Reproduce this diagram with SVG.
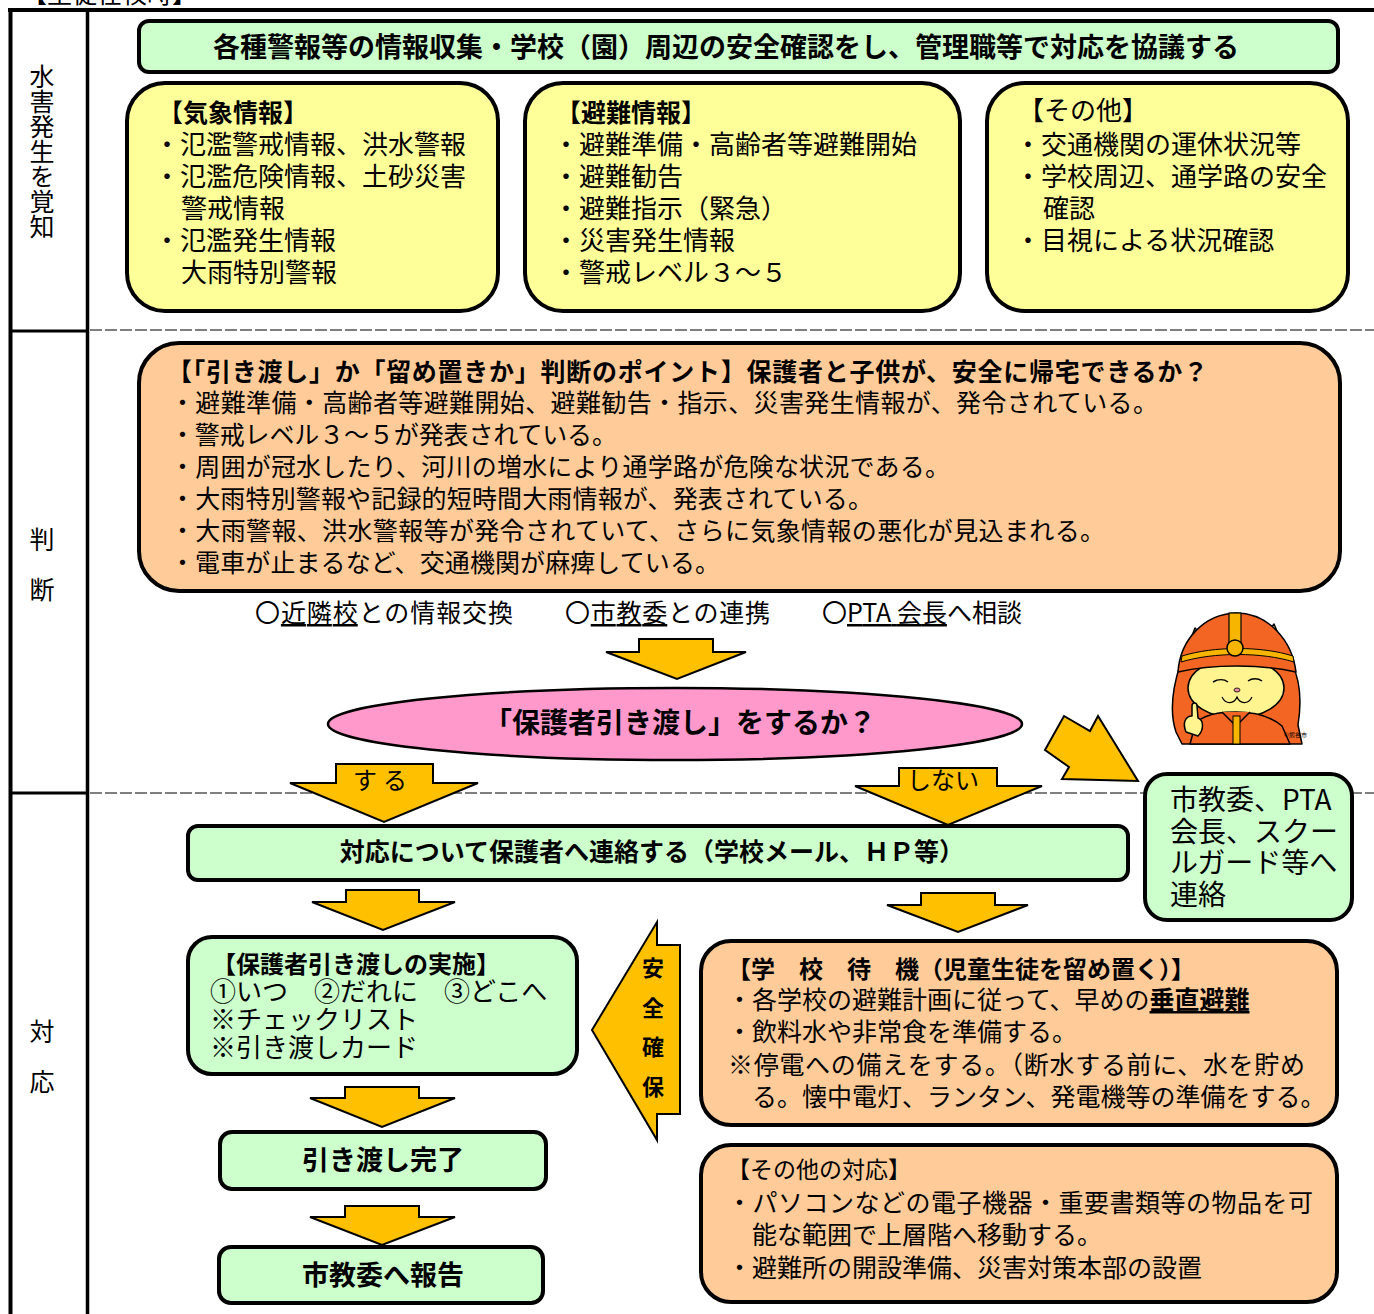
<svg xmlns="http://www.w3.org/2000/svg" width="1374" height="1314" viewBox="0 0 1374 1314">
  <defs>
    <style>
      .t { font-family: "Noto Sans CJK JP", "Noto Sans", sans-serif; fill: #000; }
      .b { font-weight: 700; }
      .v { writing-mode: vertical-rl; }
      .box { stroke: #000; stroke-width: 4; }
      .g { fill: #CCFFCC; }
      .y { fill: #FFFF99; }
      .o { fill: #FFCC99; }
      .arrow { fill: #FFC000; stroke: #000; stroke-width: 2; stroke-linejoin: miter; }
      .frame { stroke: #000; fill: none; }
      .dash { stroke: #000; stroke-width: 1.2; stroke-dasharray: 12 3; fill: none; }
      .u { text-decoration: underline; }
      .m { stroke: #000; stroke-width: 1.5; stroke-linejoin: round; }
    </style>
  </defs>

  <rect width="1374" height="1314" fill="#fff"/>

  <!-- heading, mostly above the page edge -->
  <text class="t" x="22" y="3" font-size="25">【生徒在校時】</text>

  <!-- table frame -->
  <g id="frame">
    <line class="frame" x1="8" y1="10" x2="1374" y2="10" stroke-width="4"/>
    <line class="frame" x1="10.5" y1="8" x2="10.5" y2="1314" stroke-width="4"/>
    <line class="frame" x1="87.5" y1="10" x2="87.5" y2="1314" stroke-width="3.5"/>
    <line class="frame" x1="10" y1="331" x2="88" y2="331" stroke-width="3"/>
    <line class="frame" x1="10" y1="793" x2="88" y2="793" stroke-width="3"/>
    <line class="dash" x1="90" y1="330" x2="1374" y2="330"/>
    <line class="dash" x1="90" y1="793" x2="1374" y2="793"/>
  </g>

  <!-- row labels (vertical) -->
  <g id="row-labels" class="t v" font-size="25">
    <text x="42" y="64">水害発生を覚知</text>
    <text x="42" y="527" letter-spacing="25">判断</text>
    <text x="42" y="1019" letter-spacing="25">対応</text>
  </g>

  <!-- connectors: block arrows -->
  <g id="connectors">
    <polygon class="arrow" points="639,639 713,639 713,652 746,652 677,679 606,652 639,652"/>
    <polygon class="arrow" points="336,764 433,764 433,783 478,783 384,822 290,783 336,783"/>
    <polygon class="arrow" points="899,768 997,768 997,786 1042,786 948,825 855,786 899,786"/>
    <polygon class="arrow" points="1064,716 1090,731 1098,716 1138,781 1062,779 1069,767 1045,750"/>
    <polygon class="arrow" points="346,890 419,890 419,902 455,902 383,930 312,902 346,902"/>
    <polygon class="arrow" points="921,893 995,893 995,905 1028,905 958,932 887,905 921,905"/>
    <polygon class="arrow" points="345,1087 419,1087 419,1098 455,1098 382,1127 310,1098 345,1098"/>
    <polygon class="arrow" points="345,1206 419,1206 419,1217 455,1217 382,1245 310,1217 345,1217"/>
    <polygon class="arrow" points="680,945 657,945 657,922 592,1030 657,1140 657,1114 680,1114"/>
    <text class="t" font-size="24" x="383" y="789" text-anchor="middle" letter-spacing="6">する</text>
    <text class="t" font-size="24" x="943" y="789" text-anchor="middle">しない</text>
    <text class="t b v" font-size="22" x="653" y="957" letter-spacing="17.5">安全確保</text>
  </g>

  <!-- step 1: gather information -->
  <g id="gather">
    <rect class="box g" x="139" y="21" width="1199" height="51" rx="10"/>
    <text class="t b" x="726" y="57" font-size="27" text-anchor="middle">各種警報等の情報収集・学校（園）周辺の安全確認をし、管理職等で対応を協議する</text>
  </g>

  <g id="weather">
    <rect class="box y" x="127" y="83" width="371" height="228" rx="38"/>
    <text class="t" font-size="26">
      <tspan class="b" x="158" y="122" font-size="25">【気象情報】</tspan>
      <tspan x="154" y="154">・氾濫警戒情報、洪水警報</tspan>
      <tspan x="154" y="186">・氾濫危険情報、土砂災害</tspan>
      <tspan x="181" y="218">警戒情報</tspan>
      <tspan x="154" y="250">・氾濫発生情報</tspan>
      <tspan x="181" y="282">大雨特別警報</tspan>
    </text>
  </g>

  <g id="evacuation">
    <rect class="box y" x="525" y="83" width="435" height="228" rx="38"/>
    <text class="t" font-size="26">
      <tspan class="b" x="556" y="122" font-size="25">【避難情報】</tspan>
      <tspan x="553" y="154">・避難準備・高齢者等避難開始</tspan>
      <tspan x="553" y="186">・避難勧告</tspan>
      <tspan x="553" y="218">・避難指示（緊急）</tspan>
      <tspan x="553" y="250">・災害発生情報</tspan>
      <tspan x="553" y="282">・警戒レベル３～５</tspan>
    </text>
  </g>

  <g id="other-info">
    <rect class="box y" x="987" y="83" width="361" height="228" rx="38"/>
    <text class="t" font-size="26">
      <tspan x="1018" y="120">【その他】</tspan>
      <tspan x="1015" y="154">・交通機関の運休状況等</tspan>
      <tspan x="1015" y="186">・学校周辺、通学路の安全</tspan>
      <tspan x="1043" y="218">確認</tspan>
      <tspan x="1015" y="250">・目視による状況確認</tspan>
    </text>
  </g>

  <!-- step 2: decision -->
  <g id="decision-points">
    <rect class="box o" x="139" y="343" width="1201" height="248" rx="40"/>
    <text class="t" font-size="25">
      <tspan class="b" x="167" y="381" textLength="1041">【「引き渡し」か「留め置きか」判断のポイント】保護者と子供が、安全に帰宅できるか？</tspan>
      <tspan x="170" y="412" textLength="988">・避難準備・高齢者等避難開始、避難勧告・指示、災害発生情報が、発令されている。</tspan>
      <tspan x="170" y="444" textLength="447">・警戒レベル３～５が発表されている。</tspan>
      <tspan x="170" y="476" textLength="780">・周囲が冠水したり、河川の増水により通学路が危険な状況である。</tspan>
      <tspan x="170" y="508" textLength="703">・大雨特別警報や記録的短時間大雨情報が、発表されている。</tspan>
      <tspan x="170" y="540" textLength="935">・大雨警報、洪水警報等が発令されていて、さらに気象情報の悪化が見込まれる。</tspan>
      <tspan x="170" y="572" textLength="550">・電車が止まるなど、交通機関が麻痺している。</tspan>
    </text>
  </g>

  <g id="consult" class="t" font-size="25">
    <text x="255" y="622" textLength="258">〇<tspan class="u">近隣校</tspan>との情報交換</text>
    <text x="565" y="622" textLength="205">〇<tspan class="u">市教委</tspan>との連携</text>
    <text x="822" y="622" textLength="200">〇<tspan class="u">PTA 会長</tspan>へ相談</text>
  </g>

  <g id="handover-question">
    <ellipse cx="675" cy="724" rx="347" ry="36" fill="#FF99CC" stroke="#000" stroke-width="2.5"/>
    <text class="t b" x="680" y="733" font-size="28" text-anchor="middle">「保護者引き渡し」をするか？</text>
  </g>

  <!-- mascot -->
  <g id="mascot">
    <!-- hair and shoulders -->
    <path class="m" fill="#F26522" d="M1180,665 C1172,690 1170,714 1176,732 L1182,744 L1302,744 L1298,725 C1302,700 1300,680 1292,664 Z"/>
    <!-- face -->
    <ellipse class="m" cx="1236" cy="688" rx="48" ry="30" fill="#FFF48F"/>
    <!-- jacket -->
    <path class="m" fill="#F26522" d="M1190,744 L1196,722 C1210,712 1226,712 1236,712 C1250,712 1268,714 1282,726 L1290,744 Z"/>
    <path class="m" fill="#F26522" d="M1222,712 L1236,726 L1250,712"/>
    <rect x="1233" y="716" width="7" height="28" fill="#F7B500" stroke="#000" stroke-width="1"/>
    <!-- raised hand -->
    <path class="m" fill="#FFF48F" d="M1186,732 C1182,722 1186,716 1192,716 L1192,706 C1192,702 1197,702 1197,706 L1198,718 C1204,720 1204,730 1198,736 Z"/>
    <!-- ears -->
    <path class="m" fill="#FFF48F" d="M1188,646 L1195,628 L1206,640 Z"/>
    <path d="M1193,642 L1196,633 L1201,639 Z" fill="#F5A3B0"/>
    <path class="m" fill="#FFF48F" d="M1264,638 L1274,624 L1282,643 Z"/>
    <path d="M1269,639 L1274,630 L1278,641 Z" fill="#F5A3B0"/>
    <!-- helmet -->
    <path class="m" fill="#F26522" d="M1178,672 C1180,640 1204,614 1236,613 C1268,613 1292,640 1296,672 C1262,664 1212,664 1178,672 Z"/>
    <path d="M1182,656 C1214,646 1262,646 1293,656 L1294,662 C1262,652 1214,652 1181,662 Z" fill="#F7B500" stroke="#000" stroke-width="1"/>
    <rect x="1229" y="613" width="12" height="36" fill="#F7B500" stroke="#000" stroke-width="1.2"/>
    <circle cx="1235" cy="648" r="8" fill="#F7B500" stroke="#000" stroke-width="1.5"/>
    <!-- eyes, nose, mouth -->
    <path d="M1213,682 C1218,679 1224,679 1228,682" fill="none" stroke="#000" stroke-width="1.5"/>
    <path d="M1248,681 C1252,678 1258,678 1262,681" fill="none" stroke="#000" stroke-width="1.5"/>
    <ellipse cx="1237" cy="690" rx="3" ry="2" fill="#E98FA0" stroke="#000" stroke-width="0.8"/>
    <path d="M1222,697 C1226,705 1234,704 1237,697 C1240,704 1248,705 1252,697" fill="none" stroke="#000" stroke-width="1.2"/>
    <text class="t" x="1284" y="737" font-size="6">©熊谷市</text>
  </g>

  <g id="contact-others">
    <rect class="box g" x="1145" y="774" width="207" height="146" rx="22"/>
    <text class="t" font-size="28">
      <tspan x="1170" y="810">市教委、PTA</tspan>
      <tspan x="1170" y="842">会長、スクー</tspan>
      <tspan x="1170" y="873">ルガード等へ</tspan>
      <tspan x="1170" y="905">連絡</tspan>
    </text>
  </g>

  <!-- step 3: response -->
  <g id="notify-parents">
    <rect class="box g" x="188" y="826" width="940" height="54" rx="10"/>
    <text class="t b" x="652" y="861" font-size="25" text-anchor="middle">対応について保護者へ連絡する（学校メール、ＨＰ等）</text>
  </g>

  <g id="handover">
    <rect class="box g" x="188" y="937" width="389" height="137" rx="24"/>
    <text class="t" font-size="26">
      <tspan class="b" x="212" y="973" font-size="24">【保護者引き渡しの実施】</tspan>
      <tspan x="210" y="1001">①いつ　②だれに　③どこへ</tspan>
      <tspan x="210" y="1029">※チェックリスト</tspan>
      <tspan x="210" y="1057">※引き渡しカード</tspan>
    </text>
  </g>

  <g id="handover-done">
    <rect class="box g" x="220" y="1132" width="326" height="57" rx="12"/>
    <text class="t b" x="383" y="1170" font-size="27" text-anchor="middle">引き渡し完了</text>
  </g>

  <g id="report">
    <rect class="box g" x="219" y="1247" width="324" height="56" rx="12"/>
    <text class="t b" x="383" y="1285" font-size="27" text-anchor="middle">市教委へ報告</text>
  </g>

  <g id="school-standby">
    <rect class="box o" x="701" y="941" width="636" height="184" rx="30"/>
    <text class="t" font-size="25">
      <tspan class="b" x="727" y="978" font-size="24">【学　校　待　機（児童生徒を留め置く）】</tspan>
      <tspan x="727" y="1009">・各学校の避難計画に従って、早めの<tspan class="u b">垂直避難</tspan></tspan>
      <tspan x="727" y="1041">・飲料水や非常食を準備する。</tspan>
      <tspan x="728" y="1074" textLength="577">※停電への備えをする。（断水する前に、水を貯め</tspan>
      <tspan x="752" y="1106">る。懐中電灯、ランタン、発電機等の準備をする。</tspan>
    </text>
  </g>

  <g id="other-response">
    <rect class="box o" x="701" y="1145" width="636" height="157" rx="30"/>
    <text class="t" font-size="25">
      <tspan x="727" y="1178" font-size="23">【その他の対応】</tspan>
      <tspan x="727" y="1212" textLength="586">・パソコンなどの電子機器・重要書類等の物品を可</tspan>
      <tspan x="752" y="1244">能な範囲で上層階へ移動する。</tspan>
      <tspan x="727" y="1277">・避難所の開設準備、災害対策本部の設置</tspan>
    </text>
  </g>
</svg>
